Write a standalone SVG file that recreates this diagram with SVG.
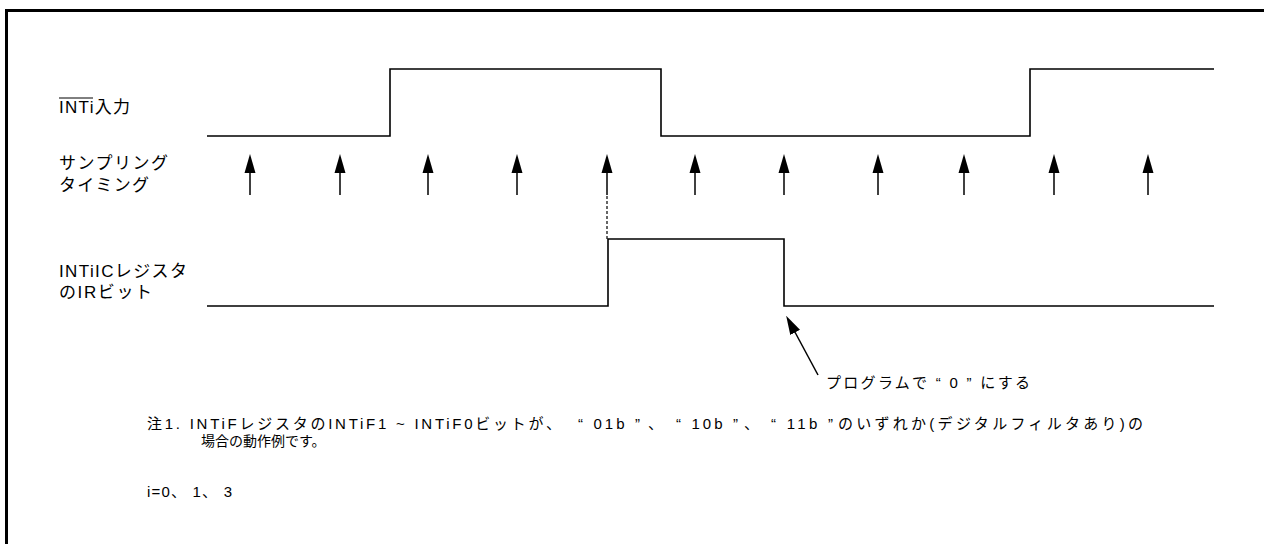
<svg xmlns="http://www.w3.org/2000/svg" width="1264" height="544" viewBox="0 0 1264 544">
<defs>
<style>
.t{font-family:"Liberation Sans","Noto Sans CJK JP",sans-serif;font-size:17px;fill:#000}
.n{font-size:15px}
.s{font-size:14px}
.w{fill:none;stroke:#000;stroke-width:1.6}
.a{stroke:#000;stroke-width:1.5}
</style>
<marker id="ah" markerWidth="19" markerHeight="12" viewBox="0 0 19 12" refX="13" refY="6" orient="auto" markerUnits="userSpaceOnUse">
<path d="M19,6 L0,0.5 L0,11.5 Z" fill="#000"/>
</marker>
</defs>
<rect width="1264" height="544" fill="#fff"/>
<path d="M6.5,544 V10.5 H1264" fill="none" stroke="#000" stroke-width="3"/>
<g id="labels">
<text class="t" x="59" y="113" textLength="71">INTi入力</text>
<line x1="59" y1="98" x2="93" y2="98" stroke="#000" stroke-width="1"/>
<text class="t" x="59" y="169" textLength="109">サンプリング</text>
<text class="t" x="59" y="191" textLength="90">タイミング</text>
<text class="t" x="59" y="277" textLength="128">INTiICレジスタ</text>
<text class="t" x="59" y="298" textLength="93">のIRビット</text>
</g>
<g id="inti-wave">
<path class="w" d="M207,136 H390 V69 H661 V136 H1030 V69 H1214"/>
</g>
<g id="sampling">
<g class="a">
<line x1="250" y1="195" x2="250" y2="160" marker-end="url(#ah)"/>
<line x1="340" y1="195" x2="340" y2="160" marker-end="url(#ah)"/>
<line x1="428" y1="195" x2="428" y2="160" marker-end="url(#ah)"/>
<line x1="517" y1="195" x2="517" y2="160" marker-end="url(#ah)"/>
<line x1="607" y1="195" x2="607" y2="160" marker-end="url(#ah)"/>
<line x1="695" y1="195" x2="695" y2="160" marker-end="url(#ah)"/>
<line x1="784" y1="195" x2="784" y2="160" marker-end="url(#ah)"/>
<line x1="878" y1="195" x2="878" y2="160" marker-end="url(#ah)"/>
<line x1="964" y1="195" x2="964" y2="160" marker-end="url(#ah)"/>
<line x1="1054" y1="195" x2="1054" y2="160" marker-end="url(#ah)"/>
<line x1="1148" y1="195" x2="1148" y2="160" marker-end="url(#ah)"/>
</g>
</g>
<g id="ir-wave">
<line x1="607" y1="196" x2="607" y2="239" stroke="#000" stroke-width="1.2" stroke-dasharray="3,2"/>
<path class="w" d="M207,306 H608 V239 H784 V306 H1214"/>
</g>
<g id="connectors">
<line x1="818" y1="375" x2="789" y2="321" stroke="#000" stroke-width="1.5" marker-end="url(#ah)"/>
</g>
<g id="notes">
<text class="t n" x="826" y="388" textLength="204">プログラムで “ 0 ” にする</text>
<text class="t n" x="147" y="429" textLength="414">注1. INTiFレジスタのINTiF1 ~ INTiF0ビットが、</text>
<text class="t n" x="578" y="429" textLength="62">“ 01b ”</text>
<text class="t n" x="648" y="429">、</text>
<text class="t n" x="676" y="429" textLength="62">“ 10b ”</text>
<text class="t n" x="744" y="429">、</text>
<text class="t n" x="771" y="429" textLength="62">“ 11b ”</text>
<text class="t n" x="838" y="429" textLength="305">のいずれか(デジタルフィルタあり)の</text>
<text class="t s" x="201" y="446">場合の動作例です。</text>
<text class="t n" x="147" y="497" textLength="85">i=0、 1、 3</text>
</g>
</svg>
